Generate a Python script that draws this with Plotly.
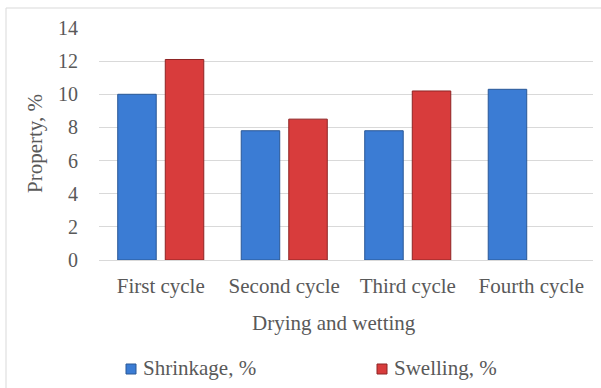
import plotly.graph_objects as go

# Drying–wetting cycle results
cycles = ["First cycle", "Second cycle", "Third cycle", "Fourth cycle"]
shrinkage = [10.0, 7.8, 7.8, 10.3]
swelling = [12.1, 8.5, 10.2, None]
y_ticks = [0, 2, 4, 6, 8, 10, 12, 14]
series_names = ["Shrinkage, %", "Swelling, %"]

W, H = 601, 388
L, R, T, B = 99, 8, 28, 128
pw, ph = W - L - R, H - T - B

def px_x(px):
    return (px - L) / pw

def px_y(py):
    return (H - B - py) / ph

FONT = "Liberation Serif"
GREY = "#595959"
FS_NUM = 20
FS_TXT = 21
BLUE, BLUE_EDGE = "#3b7cd4", "#2a5896"
RED, RED_EDGE = "#d83c3c", "#8e2424"

fig = go.Figure()
fig.add_trace(go.Bar(
    x=cycles, y=shrinkage, name=series_names[0],
    marker=dict(color=BLUE, line=dict(color=BLUE_EDGE, width=1)),
))
fig.add_trace(go.Bar(
    x=cycles, y=swelling, name=series_names[1],
    marker=dict(color=RED, line=dict(color=RED_EDGE, width=1)),
))

# Legend drawn as keys + serif labels below the axis title
legend_items = [
    (series_names[0], BLUE, BLUE_EDGE, 126, 141),
    (series_names[1], RED, RED_EDGE, 377, 392),
]
legend_shapes, legend_labels = [], []
for name, fill, edge, key_x, text_x in legend_items:
    legend_shapes.append(dict(
        type="rect", xref="paper", yref="paper",
        x0=px_x(key_x), x1=px_x(key_x + 10), y0=px_y(374), y1=px_y(364),
        fillcolor=fill, line=dict(color=edge, width=1),
    ))
    legend_labels.append(dict(
        text=name, xref="paper", yref="paper",
        x=px_x(text_x), y=px_y(368), showarrow=False,
        xanchor="left", yanchor="middle",
        font=dict(family=FONT, size=FS_TXT, color=GREY),
    ))

fig.update_layout(
    width=W, height=H,
    margin=dict(l=L, r=R, t=T, b=B, autoexpand=False),
    paper_bgcolor="white", plot_bgcolor="white",
    barmode="group", bargap=0.23, bargroupgap=0.19,
    font=dict(family=FONT, size=FS_TXT, color=GREY),
    showlegend=False,
    xaxis=dict(
        showgrid=False, showline=False, zeroline=False,
        ticks="", ticklabelstandoff=11,
        tickfont=dict(family=FONT, size=FS_TXT, color=GREY),
    ),
    yaxis=dict(
        range=[0, 14], tickvals=y_ticks,
        showgrid=True, gridcolor="#d9d9d9", gridwidth=1,
        zeroline=True, zerolinecolor="#d9d9d9", zerolinewidth=1,
        showline=False, ticks="", ticklabelstandoff=20,
        tickfont=dict(family=FONT, size=FS_NUM, color=GREY),
    ),
    annotations=[
        dict(text="Property, %", xref="paper", yref="paper",
             x=px_x(35), y=px_y(144), textangle=-90, showarrow=False,
             xanchor="center", yanchor="middle",
             font=dict(family=FONT, size=FS_TXT, color=GREY)),
        dict(text="Drying and wetting", xref="paper", yref="paper",
             x=px_x(334), y=px_y(323), showarrow=False,
             xanchor="center", yanchor="middle",
             font=dict(family=FONT, size=FS_TXT, color=GREY)),
    ] + legend_labels,
    shapes=[
        dict(type="line", xref="paper", yref="paper",
             x0=px_x(6), x1=px_x(610), y0=px_y(8), y1=px_y(8),
             line=dict(color="#d9d9d9", width=1)),
        dict(type="line", xref="paper", yref="paper",
             x0=px_x(6), x1=px_x(6), y0=px_y(8), y1=px_y(400),
             line=dict(color="#d9d9d9", width=1)),
    ] + legend_shapes,
)

fig.write_html("out.html")
